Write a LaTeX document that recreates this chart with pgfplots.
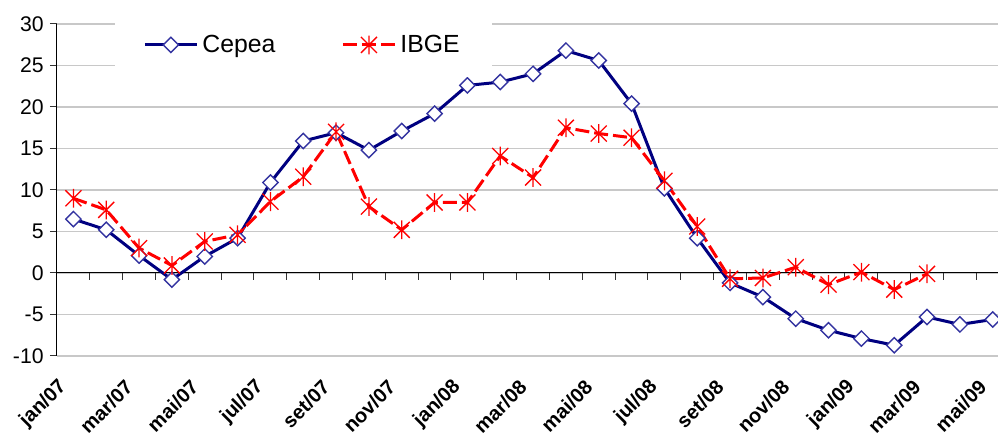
\documentclass[border=0pt]{standalone}
\usepackage{pgfplots}
\pgfplotsset{compat=1.18}
\usepackage{fontspec}
\setmainfont{Liberation Sans}
\definecolor{cepealine}{HTML}{000080}
\definecolor{cepeamark}{HTML}{3333A0}
\definecolor{ibge}{HTML}{FF0000}
\definecolor{gridgray}{HTML}{C8C8C8}
\pgfdeclareplotmark{xstar}{%
  \pgfpathmoveto{\pgfqpoint{-0.85\pgfplotmarksize}{-0.85\pgfplotmarksize}}%
  \pgfpathlineto{\pgfqpoint{0.85\pgfplotmarksize}{0.85\pgfplotmarksize}}%
  \pgfpathmoveto{\pgfqpoint{-0.85\pgfplotmarksize}{0.85\pgfplotmarksize}}%
  \pgfpathlineto{\pgfqpoint{0.85\pgfplotmarksize}{-0.85\pgfplotmarksize}}%
  \pgfpathmoveto{\pgfqpoint{0pt}{-\pgfplotmarksize}}%
  \pgfpathlineto{\pgfqpoint{0pt}{\pgfplotmarksize}}%
  \pgfusepathqstroke}
\begin{document}
\begin{tikzpicture}
\begin{axis}[
  at={(0,0)}, anchor=south west,
  scale only axis,
  width=470.5pt, height=166pt,
  xmin=-0.5, xmax=28.16,
  ymin=-10, ymax=30,
  axis x line=middle,
  axis y line=left,
  x axis line style={-, black, line width=0.5pt},
  y axis line style={-, black, line width=0.5pt},
  hide obscured x ticks=false,
  hide obscured y ticks=false,
  ytick={-10,-5,0,5,10,15,20,25,30},
  xtick={0,2,...,28},
  xticklabels={jan/07,mar/07,mai/07,jul/07,set/07,nov/07,jan/08,mar/08,mai/08,jul/08,set/08,nov/08,jan/09,mar/09,mai/09},
  minor xtick={-0.5,0.5,...,27.5},
  tick align=outside,
  major tick length=3.5pt,
  minor tick length=3.5pt,
  major x tick style={draw=none},
  minor x tick style={black!80, line width=0.5pt},
  ytick style={black!80, line width=0.5pt},
  ymajorgrids,
  major grid style={gridgray, line width=0.6pt},
  /pgf/number format/assume math mode=true,
  yticklabel style={font=\fontsize{10.6}{12}\selectfont, inner sep=3pt},
  xticklabel style={font=\bfseries\fontsize{10}{12}\selectfont, xshift=-2.5pt, yshift=-49.5pt, rotate=45, anchor=east},
  legend columns=2,
  legend style={at={(0.0616,0.937)}, anchor=west, draw=none, fill=white,
    font=\fontsize{12.4}{14}\selectfont, inner xsep=14pt, inner ysep=9pt,
    /tikz/every even column/.append style={column sep=31pt}},
  legend image code/.code={\draw[mark repeat=2, mark phase=2] plot coordinates {(0pt,0pt) (13pt,0pt) (26pt,0pt)};},
  clip=false,
]
\addplot[cepealine, line width=1.5pt, mark=square*, mark size=2.7pt,
  mark options={rotate=45, fill=white, draw=cepeamark, line width=0.7pt}]
  coordinates {
  (0,6.5) (1,5.2) (2,2.1) (3,-0.8) (4,2.0) (5,4.2) (6,10.9) (7,15.9) (8,16.9)
  (9,14.8) (10,17.1) (11,19.2) (12,22.6) (13,23.0) (14,24.0) (15,26.8) (16,25.6)
  (17,20.4) (18,10.2) (19,4.2) (20,-1.2) (21,-2.9) (22,-5.5) (23,-6.9) (24,-7.9)
  (25,-8.7) (26,-5.3) (27,-6.2) (28,-5.6)
  };
\addlegendentry{Cepea}
\addplot[ibge, line width=1.5pt, dash pattern=on 7pt off 2.5pt, mark=xstar, mark size=4.7pt,
  mark options={solid, line width=0.65pt}]
  coordinates {
  (0,9.0) (1,7.6) (2,3.0) (3,0.9) (4,3.8) (5,4.6) (6,8.6) (7,11.6) (8,17.0)
  (9,8.0) (10,5.2) (11,8.5) (12,8.5) (13,14.1) (14,11.5) (15,17.5) (16,16.8)
  (17,16.3) (18,11.1) (19,5.6) (20,-0.7) (21,-0.6) (22,0.7) (23,-1.4) (24,0.1)
  (25,-2.0) (26,-0.1)
  };
\addlegendentry{IBGE}
\end{axis}
\pgfresetboundingbox
\path[use as bounding box] (-28.5pt,-43.5pt) rectangle (470.5pt,178pt);
\end{tikzpicture}
\end{document}
